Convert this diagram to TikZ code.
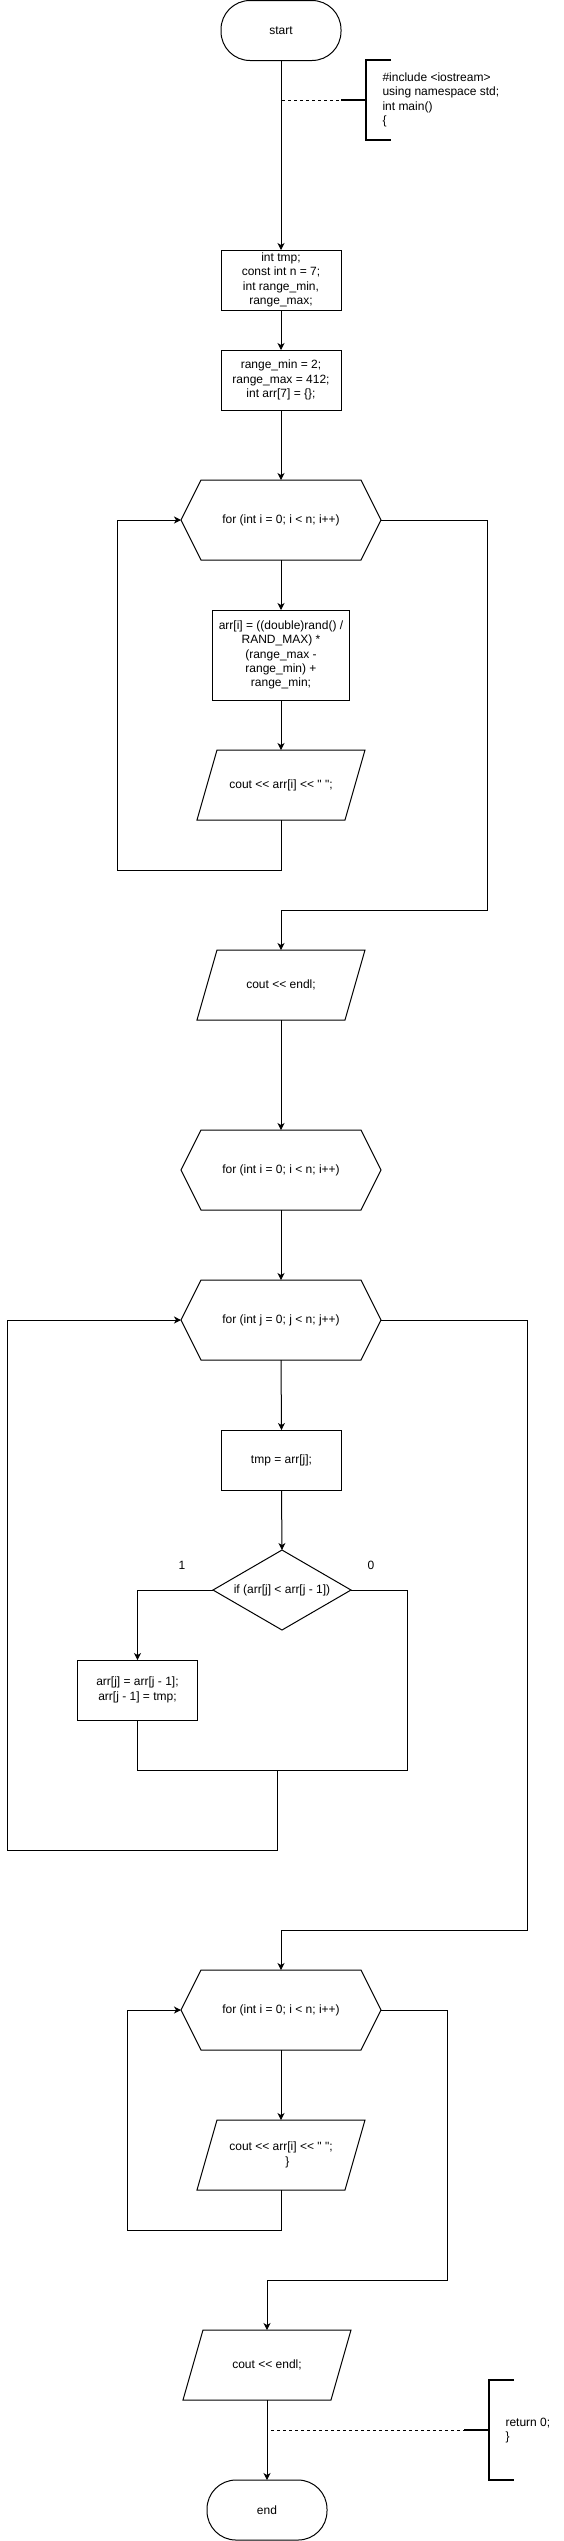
\documentclass[tikz,border=0pt]{standalone}
\usepackage{fontspec}
\setmainfont{Liberation Sans}[Ligatures=TeXOff]
\usetikzlibrary{arrows.meta}
\tikzset{
    every node/.style={font=\fontsize{12}{14.4}\selectfont, inner sep=1pt, outer sep=0pt, align=center},
    termbox/.style={draw, rectangle, rounded corners=29pt, minimum width=120pt, minimum height=60pt},
    procbox/.style={draw, rectangle, minimum width=120pt, minimum height=60pt},
    loopbox/.style={rectangle, minimum width=200pt, minimum height=80pt},
    iobox/.style={rectangle, minimum width=168pt, minimum height=70pt},
    testbox/.style={rectangle, minimum width=138pt, minimum height=80pt},
    flow/.style={-{Stealth[length=7pt,width=7pt,inset=2pt]}},
    notebar/.style={line width=2pt},
    tap/.style={dash pattern=on 3pt off 3pt}
}

\begin{document}
\begin{tikzpicture}[x=1pt, y=-1pt, line width=1pt]
    \useasboundingbox (0,0) rectangle (564,2541);

    \node[termbox] (start) at (281,30.5) {start};
    \node[procbox] (decl) at (281,280) {int tmp;\\const int n = 7;\\int range\_min,\\range\_max;};
    \node[procbox] (init) at (281,380) {range\_min = 2;\\range\_max = 412;\\int arr[7] = \{\};};
    \node[loopbox] (fill) at (281,520) {for (int i = 0; i < n; i++)};
    \node[procbox, minimum width=137pt, minimum height=90pt] (rnd) at (281,655) {arr[i] = ((double)rand() /\\RAND\_MAX) *\\(range\_max -\\range\_min) +\\range\_min;};
    \node[iobox] (outa) at (281,785) {cout << arr[i] << " ";};
    \node[iobox] (endla) at (281,985) {cout << endl;};
    \node[loopbox] (sorti) at (281,1170) {for (int i = 0; i < n; i++)};
    \node[loopbox] (sortj) at (281,1320) {for (int j = 0; j < n; j++)};
    \node[procbox] (tmpset) at (281.5,1460) {tmp = arr[j];};
    \node[testbox] (cmp) at (282,1590) {if (arr[j] < arr[j - 1])};
    \node[procbox] (swap) at (137.5,1690) {arr[j] = arr[j - 1];\\arr[j - 1] = tmp;};
    \node[loopbox] (print) at (281,2010) {for (int i = 0; i < n; i++)};
    \node[iobox] (outb) at (281,2155) {cout << arr[i] << " ";\\\hspace*{13pt}\}};
    \node[iobox] (endlb) at (267,2365) {cout << endl;};
    \node[termbox] (stop) at (267,2510) {end};

    \node (yes) at (182,1565) {1};
    \node (no) at (371,1565) {0};

    % outlines of the loop, io and test shapes
    \foreach \n in {fill,sorti,sortj,print}
        \draw (\n.west) -- ([xshift=20pt]\n.north west) -- ([xshift=-20pt]\n.north east) -- (\n.east)
            -- ([xshift=-20pt]\n.south east) -- ([xshift=20pt]\n.south west) -- cycle;
    \foreach \n in {outa,endla,outb,endlb}
        \draw ([xshift=20pt]\n.north west) -- (\n.north east) -- ([xshift=-20pt]\n.south east) -- (\n.south west) -- cycle;
    \draw (cmp.west) -- (cmp.north) -- (cmp.east) -- (cmp.south) -- cycle;

    \draw[flow] (start.south) -- (decl.north);
    \draw[flow] (decl.south) -- (init.north);
    \draw[flow] (init.south) -- (fill.north);
    \draw[flow] (fill.south) -- (rnd.north);
    \draw[flow] (rnd.south) -- (outa.north);
    \draw[flow] (outa.south) -- ++(0,50) -| ([xshift=-64pt]fill.west) -- (fill.west);
    \draw[flow] (fill.east) -- ++(106,0) |- ([yshift=40pt]endla.north) -- (endla.north);
    \draw[flow] (endla.south) -- (sorti.north);
    \draw[flow] (sorti.south) -- (sortj.north);
    \draw[flow] (sortj.south) -- (tmpset.north);
    \draw[flow] (tmpset.south) -- (cmp.north);
    \draw[flow] (cmp.west) -| (swap.north);
    \coordinate (merge) at (277,1770);
    \draw (cmp.east) -- ++(56,0) |- (merge);
    \draw (swap.south) |- (merge);
    \draw[flow] (merge) -- ++(0,80) -| ([xshift=-174pt]sortj.west) -- (sortj.west);
    \draw[flow] (sortj.east) -- ++(146,0) |- ([yshift=40pt]print.north) -- (print.north);
    \draw[flow] (print.south) -- (outb.north);
    \draw[flow] (outb.south) -- ++(0,40) -| ([xshift=-54pt]print.west) -- (print.west);
    \draw[flow] (print.east) -- ++(66,0) |- ([yshift=50pt]endlb.north) -- (endlb.north);
    \draw[flow] (endlb.south) -- (stop.north);

    % comment brackets
    \coordinate (tapa) at (282,100);
    \coordinate (bara) at (366,100);
    \draw[tap] (tapa) -- ([xshift=-25pt]bara);
    \draw[notebar] ([xshift=-25pt]bara) -- (bara);
    \draw[notebar] ([xshift=25pt,yshift=40pt]bara) -- ([yshift=40pt]bara) -- ([yshift=-40pt]bara) -- ([xshift=25pt,yshift=-40pt]bara);
    \node[anchor=west, align=left] (notetop) at (381.5,100) {\#include <iostream>\\using namespace std;\\int main()\\\{};

    \coordinate (tapb) at (271,2430);
    \coordinate (barb) at (489,2430);
    \draw[tap] (tapb) -- ([xshift=-25pt]barb);
    \draw[notebar] ([xshift=-25pt]barb) -- (barb);
    \draw[notebar] ([xshift=25pt,yshift=50pt]barb) -- ([yshift=50pt]barb) -- ([yshift=-50pt]barb) -- ([xshift=25pt,yshift=-50pt]barb);
    \node[anchor=west, align=left] (notebot) at (504.5,2430.5) {return 0;\\\}};
\end{tikzpicture}
\end{document}
